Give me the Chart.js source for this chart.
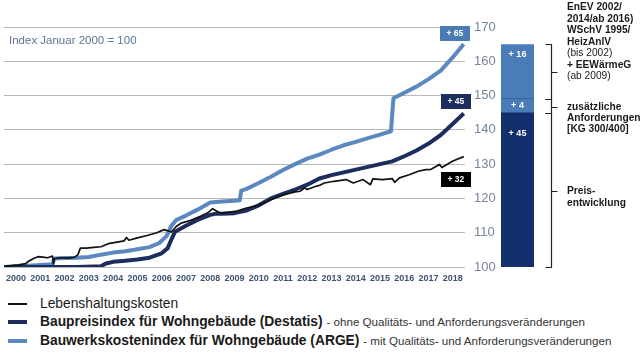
<!DOCTYPE html>
<html><head><meta charset="utf-8">
<script src="https://cdn.jsdelivr.net/npm/chart.js@4.4.1/dist/chart.umd.min.js"></script>
<style>
html,body{margin:0;padding:0;background:#fff;}
#wrap{position:relative;width:640px;height:356px;overflow:hidden;font-family:"Liberation Sans",Arial,sans-serif;color:#1a1a1a;}
#lineCanvas{position:absolute;left:0;top:0;}
#barCanvas{position:absolute;left:490px;top:0;}
.t{position:absolute;white-space:nowrap;}
.note{font-size:10.2px;font-weight:bold;line-height:11.5px;color:#1a1a1a;}
.note .n{font-weight:normal;}
.leg{position:absolute;left:40px;height:18px;line-height:18px;white-space:nowrap;font-size:13.8px;color:#1a1a1a;}
.leg b{font-weight:bold;}
.leg .s{font-size:11.6px;color:#333;}
.mk{position:absolute;left:8px;width:19px;}
</style>
</head><body>
<div id="wrap">
  <canvas id="lineCanvas" width="500" height="290"></canvas>
  <canvas id="barCanvas" width="150" height="290"></canvas>
  <div class="t" style="left:9px;top:34px;font-size:11.5px;color:#5d7594;">Index Januar 2000 = 100</div>

  <div class="t note" style="left:567px;top:1px;">EnEV 2002/<br>2014/ab 2016)<br>WSchV 1995/<br>HeizAnlV<br><span class="n">(bis 2002)</span><br>+ EEWärmeG<br><span class="n">(ab 2009)</span></div>
  <div class="t note" style="left:567px;top:101px;line-height:11px;">zusätzliche<br>Anforderungen<br>[KG 300/400]</div>
  <div class="t note" style="left:567px;top:185px;">Preis-<br>entwicklung</div>

  <div class="mk" style="top:303px;height:2px;background:#111;"></div>
  <div class="leg" style="top:295px;">Lebenshaltungskosten</div>
  <div class="mk" style="top:320px;height:4px;background:#1c2d5e;"></div>
  <div class="leg" style="top:313px;"><b>Baupreisindex für Wohngebäude (Destatis)</b> <span class="s">- ohne Qualitäts- und Anforderungsveränderungen</span></div>
  <div class="mk" style="top:339px;height:4px;background:#5a88bf;"></div>
  <div class="leg" style="top:332px;"><b>Bauwerkskostenindex für Wohngebäude (ARGE)</b> <span class="s">- mit Qualitäts- und Anforderungsveränderungen</span></div>
</div>
<script>
// ---------- data ----------
const yearLabels = ['2000','2001','2002','2003','2004','2005','2006','2007','2008','2009','2010','2011','2012','2013','2014','2015','2016','2017','2018'];
const yTickValues = [100,110,120,130,140,150,160,170];

// Lebenshaltungskosten (time in years since Jan 2000)
const cpiTime   = [0,0.3,0.6,0.9,1.0,1.2,1.4,1.6,1.8,2.0,2.04,2.08,2.3,2.6,2.9,3.05,3.15,3.4,3.7,4.0,4.3,4.6,4.95,5.05,5.15,5.5,5.9,6.3,6.6,6.9,7.1,7.3,7.7,8.1,8.4,8.6,8.8,8.95,9.3,9.6,10.0,10.5,11.0,11.5,12.0,12.2,12.4,12.5,12.8,13.0,13.2,13.6,14.1,14.4,14.8,15.1,15.2,15.6,16.0,16.1,16.3,16.7,17.1,17.4,17.6,17.95,18.05,18.5,18.95];
const cpiValues = [100,100.4,100.6,101.0,101.6,102.4,103.0,102.9,102.7,103.2,100.9,102.4,102.7,102.6,102.8,103.6,105.5,105.5,105.7,105.9,106.8,107.2,107.6,108.6,107.8,108.5,109.2,110.0,110.9,110.2,111.8,112.8,113.6,114.8,115.8,117.0,116.2,115.7,116.0,116.3,117.2,118.0,119.6,121.0,121.9,122.1,123.1,122.6,123.4,123.8,124.5,125.0,125.5,124.5,125.5,124.0,125.7,125.5,125.8,124.7,126.0,126.9,128.0,128.4,128.5,129.9,129.0,130.9,132.2];

// Baupreisindex für Wohngebäude (Destatis)
const destatisTime   = [0,1,2,3,4.0,4.2,4.5,5,5.5,6.0,6.5,6.75,6.9,7.05,7.5,8,8.5,8.7,9,9.5,10,10.5,11,11.5,12,12.5,13,13.5,14,14.5,15,15.5,16,16.5,17,17.5,18,18.5,18.95];
const destatisValues = [100,100,100,100,100.2,101,101.5,101.8,102.2,102.7,104,105.5,108,110.3,112,113.8,115.2,115.5,115.5,115.7,116.5,118,120,121.3,122.6,124,125.8,126.8,127.6,128.4,129.2,130,130.8,132.3,134,136,138.5,141.8,144.8];

// Bauwerkskostenindex für Wohngebäude (ARGE)
const argeTime   = [0,0.5,1,1.5,2.0,2.08,2.5,3,3.5,4,4.5,5,5.5,6,6.4,6.7,6.9,7.1,7.5,8,8.5,9,9.5,9.72,9.78,10,10.5,11,11.5,12,12.5,13,13.5,14,14.5,15,15.5,15.95,16.05,16.5,17,17.5,18,18.5,18.95];
const argeValues = [100,100.2,100.4,100.6,100.8,102.5,102.6,102.7,102.9,103.6,104.2,104.6,105.2,105.8,107,109,112,113.7,115,116.8,118.8,119.1,119.3,119.5,122.3,122.8,124.5,126.3,128.3,130,131.6,132.8,134.2,135.5,136.5,137.6,138.6,139.6,149.2,150.8,152.6,154.8,157.3,161.2,165];

// Bar: Zusammensetzung der Steigerung
const barCategories = ['2018'];
const barSegmentValues = [45, 4, 16];
const barSegmentLabels = ['+ 45', '+ 4', '+ 16'];
const indexBase = 100;

// ---------- colours ----------
const NAVY = '#1c2d5e', LIGHT = '#5a88bf', BLACK = '#111111';
const BAR_NAVY = '#14306c', BAR_LIGHT = '#4a7db8';
const FONT = '"Liberation Sans", Arial, sans-serif';

const toPts = (t, v) => t.map((x, i) => ({x, y: v[i]}));

// end-of-line value boxes
const endBoxes = {
  id: 'endBoxes',
  afterDatasetsDraw(chart) {
    const ctx = chart.ctx;
    const cfg = [
      {ds: 0, fill: '#000000', dx: -8, dy: 22.5},
      {ds: 1, fill: NAVY, dx: -8, dy: -12},
      {ds: 2, fill: '#4a7bb5', dx: -9, dy: -11}
    ];
    cfg.forEach(c => {
      const meta = chart.getDatasetMeta(c.ds);
      const pts = meta.data;
      const last = pts[pts.length - 1];
      const vals = chart.data.datasets[c.ds].data;
      const v = vals[vals.length - 1].y;
      const txt = '+ ' + Math.round(v - indexBase);
      const cx = last.x + c.dx, cy = last.y + c.dy;
      const w = 30, h = 15;
      ctx.save();
      ctx.fillStyle = c.fill;
      ctx.fillRect(Math.round(cx - w / 2), Math.round(cy - h / 2), w, h);
      ctx.fillStyle = '#ffffff';
      ctx.font = 'bold 8.5px ' + FONT;
      ctx.textAlign = 'center';
      ctx.textBaseline = 'middle';
      ctx.fillText(txt, cx, cy + 0.5);
      ctx.restore();
    });
  }
};

new Chart(document.getElementById('lineCanvas'), {
  type: 'line',
  data: {
    datasets: [
      {label: 'Lebenshaltungskosten', data: toPts(cpiTime, cpiValues), borderColor: BLACK, borderWidth: 1.7, pointRadius: 0, tension: 0, order: 0},
      {label: 'Baupreisindex für Wohngebäude (Destatis)', data: toPts(destatisTime, destatisValues), borderColor: NAVY, borderWidth: 4, pointRadius: 0, tension: 0, order: 1},
      {label: 'Bauwerkskostenindex für Wohngebäude (ARGE)', data: toPts(argeTime, argeValues), borderColor: LIGHT, borderWidth: 4, pointRadius: 0, tension: 0, order: 2}
    ]
  },
  options: {
    responsive: false, animation: false, devicePixelRatio: 1,
    layout: {padding: {left: 2, top: 27, right: 0, bottom: 0}},
    plugins: {legend: {display: false}, tooltip: {enabled: false}},
    elements: {line: {borderCapStyle: 'butt', borderJoinStyle: 'round'}},
    scales: {
      x: {
        type: 'linear', min: 0, max: 19,
        afterBuildTicks: s => { s.ticks = yearLabels.map((_, i) => ({value: i + 0.5})); },
        afterFit: s => { s.height = 23; },
        ticks: {autoSkip: false, maxRotation: 0, minRotation: 0, padding: 6,
          callback: (v, i) => yearLabels[i],
          font: {family: FONT, size: 9, weight: 'bold'}, color: '#3d5273'},
        grid: {display: false, drawTicks: false},
        border: {display: false}
      },
      y: {
        position: 'right', min: 100, max: 170,
        afterBuildTicks: s => { s.ticks = yTickValues.map(v => ({value: v})); },
        afterFit: s => { s.width = 35; },
        ticks: {padding: 9, font: {family: FONT, size: 13}, color: '#74859c'},
        grid: {color: '#b9b9b9', lineWidth: 1, drawTicks: false},
        border: {display: false}
      }
    }
  },
  plugins: [endBoxes]
});

// ---------- bar with brackets ----------
const segColors = [BAR_NAVY, BAR_LIGHT, BAR_LIGHT];
let acc = indexBase;
const barDatasets = barSegmentValues.map((v, i) => {
  const start = acc; acc += v;
  return {
    data: [[start, acc]],
    backgroundColor: segColors[i],
    borderColor: '#2b558f',
    borderWidth: i === 2 ? {top: 0, left: 0, right: 0, bottom: 1} : 0,
    borderSkipped: false,
    barPercentage: 1, categoryPercentage: 1
  };
});

const barDecor = {
  id: 'barDecor',
  afterDatasetsDraw(chart) {
    const ctx = chart.ctx;
    const ys = chart.scales.y;
    const area = chart.chartArea;
    // labels
    const offs = [21, null, 10];
    chart.data.datasets.forEach((ds, i) => {
      const el = chart.getDatasetMeta(i).data[0];
      const top = Math.min(el.y, el.base), bot = Math.max(el.y, el.base);
      const y = offs[i] === null ? (top + bot) / 2 : top + offs[i];
      ctx.save();
      ctx.fillStyle = '#ffffff';
      ctx.font = 'bold 9px ' + FONT;
      ctx.textAlign = 'center'; ctx.textBaseline = 'middle';
      ctx.fillText(barSegmentLabels[i], el.x, y);
      ctx.restore();
    });
    // brackets
    const bx = area.right + 17.5;
    ctx.save();
    ctx.strokeStyle = '#222'; ctx.lineWidth = 1.2;
    chart.data.datasets.slice().reverse().forEach(ds => {
      const [a, b] = ds.data[0];
      const yT = Math.round(ys.getPixelForValue(b)) + 0.5;
      const yB = Math.round(ys.getPixelForValue(a)) + 0.5;
      const yM = Math.round((yT + yB) / 2) + 0.5;
      ctx.beginPath();
      ctx.moveTo(bx - 6, yT); ctx.lineTo(bx, yT); ctx.lineTo(bx, yB); ctx.lineTo(bx - 6, yB);
      ctx.moveTo(bx, yM); ctx.lineTo(bx + 6, yM);
      ctx.stroke();
    });
    ctx.restore();
  }
};

new Chart(document.getElementById('barCanvas'), {
  type: 'bar',
  data: {labels: barCategories, datasets: barDatasets},
  options: {
    responsive: false, animation: false, devicePixelRatio: 1,
    layout: {padding: {left: 11, right: 106, top: 27, bottom: 23}},
    plugins: {legend: {display: false}, tooltip: {enabled: false}},
    scales: {
      x: {display: false, stacked: true},
      y: {display: false, min: 100, max: 170}
    }
  },
  plugins: [barDecor]
});
</script>
</body></html>
